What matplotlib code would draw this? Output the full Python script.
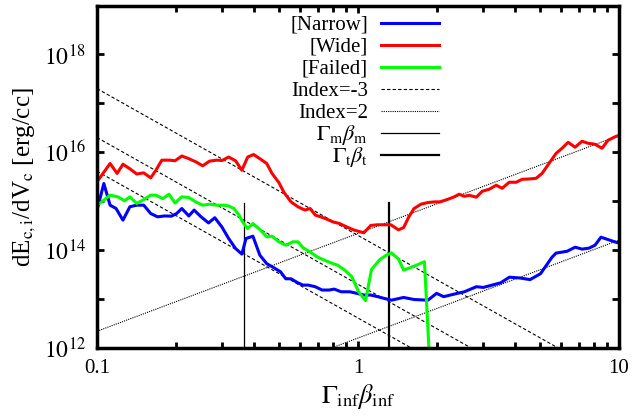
import numpy as np
import matplotlib
matplotlib.use("Agg")
import matplotlib.pyplot as plt
from matplotlib.ticker import FixedLocator, NullLocator, FuncFormatter

plt.rcParams["font.family"] = "serif"
plt.rcParams["font.serif"] = ["Liberation Serif", "DejaVu Serif"]
plt.rcParams["mathtext.fontset"] = "stix"

# Narrow
narrow_x = [0.1000, 0.1062, 0.1122, 0.1183, 0.1257, 0.1336, 0.1419, 0.1510, 0.1606, 0.1706,
            0.1815, 0.1928, 0.2018, 0.2113, 0.2248, 0.2355, 0.2503, 0.2675, 0.2826, 0.3006,
            0.3194, 0.3396, 0.3589, 0.3722, 0.3956, 0.4206, 0.4470, 0.4751, 0.5050, 0.5286,
            0.5534, 0.5882, 0.6158, 0.6447, 0.6853, 0.7284, 0.7742, 0.8105, 0.8615, 0.9310,
            0.9896, 1.052, 1.118, 1.188, 1.263, 1.343, 1.495, 1.640, 1.853, 2.000,
            2.128, 2.404, 2.555, 2.843, 3.021, 3.262, 3.521, 3.802, 4.167, 4.562,
            5.003, 5.54, 5.74, 6.33, 6.79, 7.22, 7.68, 8.09, 8.53, 9.00, 9.74, 10.0]
narrow_y = [6.6e14, 2.3e15, 8.3e14, 7.1e14, 4.1e14, 7.7e14, 8.3e14, 8.3e14, 5.6e14, 4.8e14,
            5.0e14, 4.95e14, 5.6e14, 7.1e14, 5.0e14, 6.6e14, 4.8e14, 3.6e14, 4.6e14, 3.0e14,
            1.73e14, 1.08e14, 8.3e13, 1.73e14, 1.93e14, 7.9e13, 5.3e13, 4.4e13, 3.6e13, 2.6e13,
            2.6e13, 2.15e13, 1.93e13, 1.93e13, 1.79e13, 1.53e13, 1.53e13, 1.60e13, 1.41e13, 1.41e13,
            1.31e13, 1.21e13, 1.21e13, 1.12e13, 1.03e13, 9.5e12, 1.08e13, 9.8e12, 9.5e12, 1.31e13,
            1.12e13, 1.31e13, 1.41e13, 1.79e13, 1.73e13, 1.93e13, 2.15e13, 2.8e13, 2.7e13, 2.5e13,
            3.3e13, 7.2e13, 8.7e13, 9.5e13, 1.15e14, 1.05e14, 1.10e14, 1.26e14, 1.84e14, 1.67e14,
            1.45e14, 1.4e14]

# Wide
wide_x = [0.1000, 0.1122, 0.1194, 0.1257, 0.1336, 0.1419, 0.1510, 0.1606, 0.1681, 0.1771,
          0.1900, 0.1989, 0.2113, 0.2248, 0.2388, 0.2540, 0.2700, 0.2871, 0.3015, 0.3194,
          0.3396, 0.3589, 0.3778, 0.3980, 0.4206, 0.4470, 0.4682, 0.4976, 0.5210, 0.5537,
          0.5886, 0.6258, 0.6554, 0.6862, 0.7184, 0.7516, 0.7994, 0.8495, 0.9033, 0.9603,
          1.0207, 1.0524, 1.119, 1.189, 1.264, 1.336, 1.386, 1.429, 1.496, 1.566,
          1.640, 1.743, 1.853, 1.970, 2.062, 2.193, 2.330, 2.440, 2.555, 2.669,
          2.839, 2.993, 3.184, 3.385, 3.569, 3.796, 4.037, 4.257, 4.527, 4.815,
          5.077, 5.399, 5.742, 6.053, 6.383, 6.787, 7.220, 7.611, 8.093, 8.610,
          9.077, 9.74, 10.0]
wide_y = [2.5e15, 5.9e15, 3.7e15, 5.7e15, 4.6e15, 3.6e15, 3.8e15, 3.0e15, 4.3e15, 6.9e15,
          6.9e15, 6.7e15, 8.4e15, 7.4e15, 6.4e15, 5.3e15, 6.6e15, 6.9e15, 6.8e15, 8.0e15,
          6.7e15, 4.3e15, 8.0e15, 9.0e15, 7.4e15, 5.9e15, 3.7e15, 2.4e15, 1.5e15, 9.7e14,
          7.7e14, 6.6e14, 7.1e14, 5.2e14, 4.8e14, 4.4e14, 3.8e14, 3.5e14, 3.0e14, 2.6e14,
          2.37e14, 2.26e14, 3.2e14, 3.3e14, 3.3e14, 3.3e14, 2.9e14, 2.6e14, 2.9e14, 4.8e14,
          7.1e14, 8.7e14, 9.4e14, 9.7e14, 9.7e14, 1.08e15, 1.22e15, 1.39e15, 1.26e15, 1.32e15,
          1.21e15, 1.60e15, 1.76e15, 2.12e15, 1.84e15, 2.44e15, 2.44e15, 2.81e15, 2.85e15, 2.94e15,
          3.72e15, 5.97e15, 9.5e15, 1.21e16, 1.60e16, 1.27e16, 1.68e16, 1.53e16, 1.46e16, 1.21e16,
          1.76e16, 2.12e16, 2.2e16]

# Failed
failed_x = [0.1000, 0.1062, 0.1122, 0.1201, 0.1276, 0.1336, 0.1419, 0.1510, 0.1606, 0.1681,
            0.1786, 0.1888, 0.1989, 0.2113, 0.2248, 0.2388, 0.2540, 0.2700, 0.2871, 0.3050,
            0.3194, 0.3344, 0.3501, 0.3609, 0.3778, 0.3956, 0.4206, 0.4470, 0.4682, 0.4976,
            0.5286, 0.5623, 0.5886, 0.6158, 0.6554, 0.6966, 0.7403, 0.7870, 0.8367, 0.8897,
            0.9456, 1.005, 1.069, 1.126, 1.208, 1.284, 1.343, 1.429, 1.496, 1.640,
            1.797, 1.91]
failed_y = [8.3e14, 1.05e15, 1.33e15, 1.23e15, 1.02e15, 1.23e15, 9.0e14, 1.08e15, 1.33e15, 1.33e15,
            1.13e15, 1.39e15, 9.2e14, 1.23e15, 1.19e15, 9.7e14, 8.3e14, 8.7e14, 8.3e14, 8.3e14,
            8.0e14, 7.1e14, 5.2e14, 3.8e14, 2.77e14, 3.5e14, 2.64e14, 1.87e14, 1.93e14, 1.48e14,
            1.26e14, 1.48e14, 1.48e14, 1.12e14, 9.2e13, 7.3e13, 6.3e13, 5.5e13, 4.9e13, 3.9e13,
            2.9e13, 1.41e13, 9.3e12, 4.0e13, 6.3e13, 7.9e13, 8.8e13, 6.6e13, 3.9e13, 4.7e13,
            5.8e13, 1.1e11]

# reference power laws: y = coef * x**index
index_m3_coef = [2.0e14, 2.0e13, 4.1e12]
index_2_coef = [2.2e14, 1.6e12]
gamma_m = 0.366
gamma_t = 1.32
vline_top = 9e14

fig = plt.figure(figsize=(6.35, 4.2), dpi=100)
ax = fig.add_axes([0.1528, 0.1714, 0.8220, 0.8155])
ax.set_xscale("log")
ax.set_yscale("log")
ax.set_xlim(0.1, 10)
ax.set_ylim(1e12, 1e19)

xx = np.logspace(-1, 1, 200)
for c in index_m3_coef:
    ax.plot(xx, c * xx ** -3, color="black", lw=0.8, ls=(0, (3, 2)))
for c in index_2_coef:
    ax.plot(xx, c * xx ** 2, color="black", lw=0.8, ls=(0, (1, 1)))

ax.plot([gamma_m, gamma_m], [1e12, vline_top], color="black", lw=0.9)
ax.plot([gamma_t, gamma_t], [1e12, vline_top], color="black", lw=1.6)

ax.plot(narrow_x, narrow_y, color="#0000ff", lw=2.2)
ax.plot(wide_x, wide_y, color="#ff0000", lw=2.2)
ax.plot(failed_x, failed_y, color="#00ff00", lw=2.2)

# gnuplot-like key, text right aligned
labels = ["[Narrow]", "[Wide]", "[Failed]", "Index=-3", "Index=2",
          r"$\Gamma_{\rm m}\beta_{\rm m}$", r"$\Gamma_{\rm t}\beta_{\rm t}$"]
sizes = [15, 15, 15, 15, 15, 16, 16]
styles = [dict(color="#0000ff", lw=2.2), dict(color="#ff0000", lw=2.2),
          dict(color="#00ff00", lw=2.2), dict(color="black", lw=0.8, ls=(0, (3, 2))),
          dict(color="black", lw=0.8, ls=(0, (1, 1))), dict(color="black", lw=0.9),
          dict(color="black", lw=1.6)]
for i, (lab, st) in enumerate(zip(labels, styles)):
    y = 0.949 - i * 0.0642
    ax.text(0.519, y - 0.02, lab, transform=ax.transAxes, ha="right", va="baseline",
            fontsize=sizes[i])
    ax.plot([0.544, 0.655], [y, y], transform=ax.transAxes, **st)

ax.yaxis.set_major_locator(FixedLocator([1e12, 1e13, 1e14, 1e15, 1e16, 1e17, 1e18, 1e19]))
ax.yaxis.set_minor_locator(NullLocator())
ax.yaxis.set_major_formatter(FuncFormatter(
    lambda v, p: r"$10^{%d}$" % round(np.log10(v)) if round(np.log10(v)) % 2 == 0 and v < 1e19 else ""))
ax.xaxis.set_major_locator(FixedLocator([0.1, 1, 10]))
ax.xaxis.set_major_formatter(FuncFormatter(lambda v, p: "%g" % v))
ax.xaxis.set_minor_formatter(FuncFormatter(lambda v, p: ""))

ax.tick_params(which="both", direction="in", top=True, right=True, width=2)
ax.tick_params(axis="x", labelsize=15)
ax.tick_params(axis="y", labelsize=17)
ax.tick_params(which="major", length=5, pad=8)
ax.tick_params(which="minor", length=4)
for s in ax.spines.values():
    s.set_linewidth(2.5)

ax.set_xlabel(r"$\Gamma_{\rm inf}\beta_{\rm inf}$", fontsize=19, labelpad=3)
ax.set_ylabel(r"dE$_{\rm c,i}$/dV$_{\rm c}$ [erg/cc]", fontsize=18, labelpad=4)

fig.savefig("out.png", dpi=100)
